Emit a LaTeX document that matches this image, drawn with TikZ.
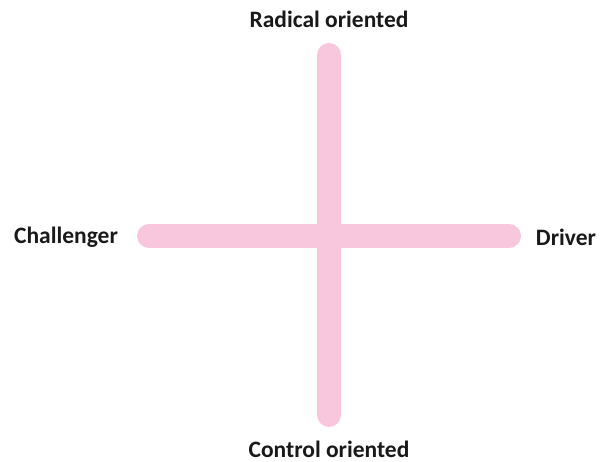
\documentclass[tikz,border=0pt]{standalone}
\usepackage{fontspec}
\setmainfont{Carlito}
\definecolor{axispink}{HTML}{F8C6DD}
\begin{document}
\begin{tikzpicture}[x=1pt,y=-1pt,
  axisline/.style={line width=24pt,color=axispink,line cap=round},
  lbl/.style={font=\bfseries\fontsize{23.5}{28}\selectfont,text=black!90,inner sep=0pt}]
\useasboundingbox (0,0) rectangle (605,462);
\coordinate (top) at (329,55);
\coordinate (bot) at (329,415);
\coordinate (left) at (149,236);
\coordinate (right) at (509,236);
\draw[axisline] (left) -- (right);
\draw[axisline] (top) -- (bot);
\node[lbl] (rad) at (329,19) {Radical oriented};
\node[lbl] (ctl) at (329,449) {Control oriented};
\node[lbl] (chal) at (66,237) {Challenger};
\node[lbl] (drv) at (566,237) {Driver};
\end{tikzpicture}
\end{document}
